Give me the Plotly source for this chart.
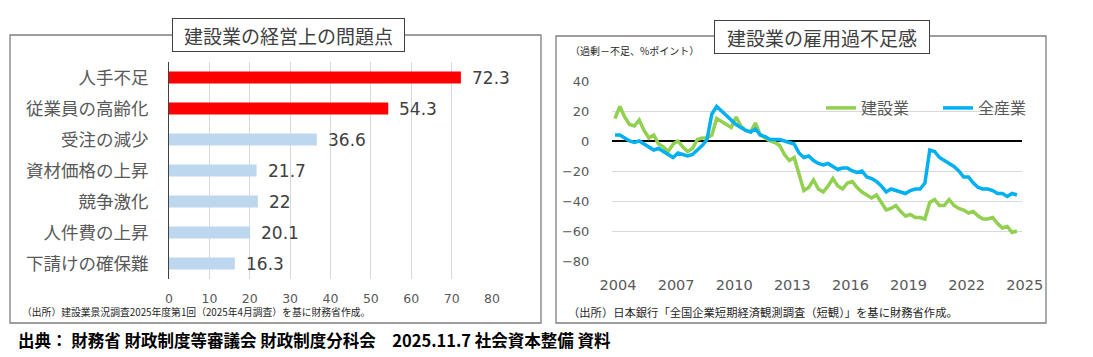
import plotly.graph_objects as go

W, H = 1093, 357


def px(x):
    return x / W


def py(y):
    return 1 - y / H


# ---------------- data ----------------
problems = ["人手不足", "従業員の高齢化", "受注の減少", "資材価格の上昇", "競争激化", "人件費の上昇", "下請けの確保難"]
problem_values = [72.3, 54.3, 36.6, 21.7, 22, 20.1, 16.3]
bar_colors = ["#ff0000", "#ff0000", "#bdd7ee", "#bdd7ee", "#bdd7ee", "#bdd7ee", "#bdd7ee"]
bar_ticks = [0, 10, 20, 30, 40, 50, 60, 70, 80]

# Tankan employment conditions DI, quarterly from 2004 Q1
construction = [15, 23, 16, 11, 10, 14, 7, 2, 4, -2,
                -4, -7, -2, 0, -4, -7, -5, 1, 2, 2,
                4, 15, 13, 11, 9, 16, 10, 7, 6, 12,
                4, 2, 0, -1, -3, -9, -13, -11, -22, -33,
                -31, -26, -32, -34, -30, -25, -30, -32, -28, -27,
                -31, -34, -36, -38, -36, -41, -46, -45, -43, -47,
                -50, -49, -51, -51, -52, -41, -39, -43, -43, -39,
                -43, -45, -46, -48, -47, -50, -52, -52, -51, -55,
                -58, -57, -61, -60]
all_industries = [4, 4, 2, 0, -1, 0, -2, -4, -6, -5,
                  -7, -9, -11, -8, -9, -10, -9, -6, -3, 1,
                  18, 23, 20, 17, 14, 11, 9, 7, 6, 8,
                  4, 3, 1, 1, 1, 0, -1, -2, -8, -11,
                  -10, -13, -15, -16, -15, -17, -19, -18, -18, -20,
                  -21, -20, -24, -25, -27, -30, -34, -32, -33, -34,
                  -35, -33, -32, -32, -28, -6, -7, -11, -13, -15,
                  -17, -20, -24, -24, -28, -31, -32, -32, -33, -35,
                  -35, -37, -35, -36]
quarter_index = list(range(len(construction)))
year_tick_index = [0, 12, 24, 36, 48, 60, 72, 84]
year_labels = ["2004", "2007", "2010", "2013", "2016", "2019", "2022", "2025"]
di_ticks = [40, 20, 0, -20, -40, -60, -80]

JP = "Noto Sans CJK JP"
NUM = "DejaVu Sans"
GRAY = "#595959"
DARK = "#404040"

fig = go.Figure()

# ---------------- left: bar chart ----------------
fig.add_trace(go.Bar(
    x=problem_values, y=problems, orientation="h",
    marker=dict(color=bar_colors, line=dict(width=0)),
    xaxis="x", yaxis="y", showlegend=False, hoverinfo="skip",
))

# ---------------- right: line chart ----------------
fig.add_trace(go.Scatter(
    x=quarter_index, y=construction, mode="lines", name="建設業",
    line=dict(color="#92d050", width=3.5), xaxis="x2", yaxis="y2",
))
fig.add_trace(go.Scatter(
    x=quarter_index, y=all_industries, mode="lines", name="全産業",
    line=dict(color="#00b0f0", width=3.5), xaxis="x2", yaxis="y2",
))

annotations = []
# bar value labels
for cat, val in zip(problems, problem_values):
    annotations.append(dict(
        x=val, y=cat, xref="x", yref="y", text=str(val), showarrow=False,
        xanchor="left", yanchor="middle", xshift=9,
        font=dict(family=NUM, size=17, color=DARK),
    ))

# titles
annotations.append(dict(
    x=px(288.5), y=py(35), xref="paper", yref="paper", text="建設業の経営上の問題点",
    showarrow=False, xanchor="center", yanchor="middle",
    font=dict(family=JP, size=19, color=DARK),
    bgcolor="white", bordercolor=DARK, borderwidth=1, borderpad=0, width=231, height=32,
))
annotations.append(dict(
    x=px(822), y=py(37.5), xref="paper", yref="paper", text="建設業の雇用過不足感",
    showarrow=False, xanchor="center", yanchor="middle",
    font=dict(family=JP, size=19, color=DARK),
    bgcolor="white", bordercolor=DARK, borderwidth=1, borderpad=0, width=214, height=32,
))
# notes
annotations.append(dict(
    x=px(20), y=py(312), xref="paper", yref="paper",
    text="（出所）建設業景況調査2025年度第1回（2025年4月調査）を基に財務省作成。",
    showarrow=False, xanchor="left", yanchor="middle",
    font=dict(family=JP, size=9.8, color="#262626"),
))
annotations.append(dict(
    x=px(566), y=py(312), xref="paper", yref="paper",
    text="（出所）日本銀行「全国企業短期経済観測調査（短観）」を基に財務省作成。",
    showarrow=False, xanchor="left", yanchor="middle",
    font=dict(family=JP, size=11.3, color="#262626"),
))
annotations.append(dict(
    x=px(568), y=py(51), xref="paper", yref="paper",
    text="（過剰－不足、%ポイント）",
    showarrow=False, xanchor="left", yanchor="middle",
    font=dict(family=JP, size=10, color="#262626"),
))
annotations.append(dict(
    x=px(16), y=py(340), xref="paper", yref="paper",
    text="<b>出典： 財務省 財政制度等審議会 財政制度分科会　2025.11.7 社会資本整備 資料</b>",
    showarrow=False, xanchor="left", yanchor="middle",
    font=dict(family=JP, size=16.5, color="#000000"),
))

shapes = [
    dict(type="rect", xref="paper", yref="paper", x0=px(10), x1=px(541), y0=py(323), y1=py(35),
         line=dict(color="#7f7f7f", width=1.3), fillcolor="rgba(0,0,0,0)", layer="below"),
    dict(type="rect", xref="paper", yref="paper", x0=px(556), x1=px(1046), y0=py(323), y1=py(36),
         line=dict(color="#7f7f7f", width=1.3), fillcolor="rgba(0,0,0,0)", layer="below"),
]

fig.update_layout(
    template="none",
    width=W, height=H, margin=dict(l=0, r=0, t=0, b=0, pad=0, autoexpand=False),
    paper_bgcolor="white", plot_bgcolor="rgba(0,0,0,0)",
    bargap=0.62,
    xaxis=dict(domain=[px(169), px(492)], range=[0, 80], anchor="y", automargin=False,
               tickvals=bar_ticks, showgrid=True, gridcolor="#d9d9d9", gridwidth=1,
               zeroline=False, showline=False, ticks="outside", ticklen=8,
               tickcolor="rgba(0,0,0,0)",
               tickfont=dict(family=NUM, size=12.5, color=GRAY), fixedrange=True),
    yaxis=dict(domain=[py(279), py(62)], anchor="x", type="category", automargin=False,
               categoryorder="array", categoryarray=problems, autorange="reversed",
               showline=True, linecolor=DARK, linewidth=1.2, showgrid=False,
               ticks="outside", ticklen=16, tickcolor="rgba(0,0,0,0)",
               tickfont=dict(family=JP, size=17.5, color=GRAY)),
    xaxis2=dict(domain=[px(612), px(1022)], range=[-0.62, 84.05], anchor="y2", automargin=False,
                tickvals=year_tick_index, ticktext=year_labels, showgrid=False,
                zeroline=False, showline=False, ticks="outside", ticklen=10,
                tickcolor="rgba(0,0,0,0)", ticklabelshift=3,
                tickfont=dict(family=NUM, size=14.5, color=GRAY)),
    yaxis2=dict(domain=[py(261.75), py(80.25)], range=[-80.5, 40.5], anchor="x2", automargin=False,
                tickvals=di_ticks, showgrid=True, gridcolor="#d9d9d9", gridwidth=1,
                zeroline=True, zerolinecolor="#000000", zerolinewidth=1.5, showline=False,
                ticks="outside", ticklen=19, tickcolor="rgba(0,0,0,0)",
                tickfont=dict(family=NUM, size=13, color=GRAY)),
    legend=dict(orientation="h", x=px(821), y=py(108), xanchor="left", yanchor="middle",
                bgcolor="rgba(0,0,0,0)", font=dict(family=JP, size=16, color=GRAY),
                itemwidth=30, entrywidth=72),
    annotations=annotations,
    shapes=shapes,
)

fig.write_html("out.html", config={"displayModeBar": False},
               post_script="document.body.style.margin='0';document.body.style.padding='0';")
